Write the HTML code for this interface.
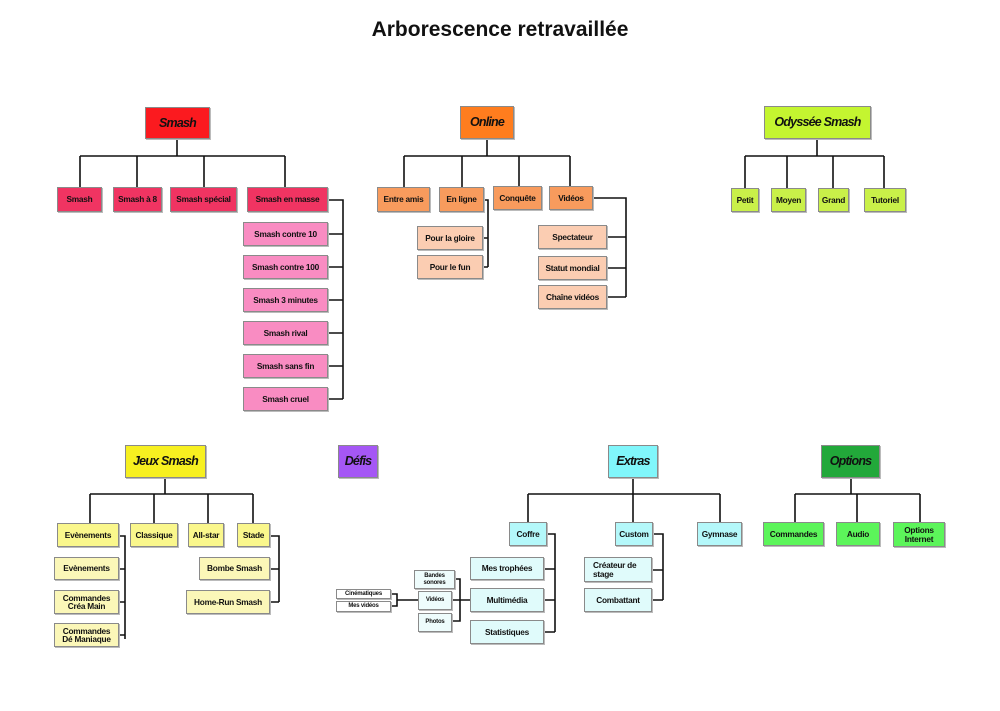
<!DOCTYPE html>
<html><head><meta charset="utf-8"><style>
body{margin:0;width:1000px;height:711px;background:#fff;position:relative;overflow:hidden;font-family:"Liberation Sans Narrow","Liberation Sans",sans-serif}
.t{position:absolute;left:0;width:1000px;top:18px;text-align:center;font:bold 21px "Liberation Sans",sans-serif;color:#111}
.b{position:absolute;box-sizing:border-box;border:1px solid #8a8a8a;display:flex;align-items:center;justify-content:center;text-align:center;font-weight:bold;font-size:8.3px;letter-spacing:-0.25px;line-height:8.5px;color:#111;box-shadow:1px 1px 0 #bbb;white-space:nowrap}
.r{font-style:italic;font-size:12.5px;letter-spacing:-0.8px}
.s{font-size:6px;line-height:6.5px;letter-spacing:-0.2px}
svg{position:absolute;left:0;top:0}
</style></head><body>
<div class="t">Arborescence retravaillée</div>
<svg width="1000" height="711" fill="none" stroke="#111" stroke-width="1.6">
<path d="M177 139V156M80 156H285M80 156V187M137 156V187M204 156V187M285 156V187"/>
<path d="M328 200H343V399M328 234H343M328 267H343M328 300H343M328 333H343M328 366H343M328 399H343"/>
<path d="M487 139V156M404 156H570M404 156V187M462 156V187M519 156V186M570 156V186"/>
<path d="M484 200H488V267M483 238H488M483 267H488"/>
<path d="M593 198H626V297M607 237H626M607 268H626M607 297H626"/>
<path d="M817 139V156M745 156H884M745 156V188M787 156V188M833 156V188M884 156V188"/>
<path d="M165 478V494M90 494H253M90 494V523M154 494V523M208 494V523M253 494V523"/>
<path d="M119 536H125V639M119 569H125M119 602H125M119 635H125"/>
<path d="M270 536H279V602M270 569H279M270 602H279"/>
<path d="M633 478V522M528 494H720M528 494V522M720 494V522"/>
<path d="M547 534H555V632M544 569H555M544 600H555M544 632H555"/>
<path d="M653 534H663V600M652 570H663M652 600H663"/>
<path d="M455 579H460V621H452M452 600H470"/>
<path d="M391 594H397V606H391M397 600H418"/>
<path d="M851 478V494M795 494H920M795 494V522M857 494V522M920 494V522"/>
</svg>

<div class="b r" style="left:145px;top:107px;width:65px;height:32px;background:#fb1a1f">Smash</div>
<div class="b" style="left:57px;top:187px;width:45px;height:25px;background:#f03462">Smash</div>
<div class="b" style="left:113px;top:187px;width:49px;height:25px;background:#f03462">Smash à 8</div>
<div class="b" style="left:170px;top:187px;width:67px;height:25px;background:#f03462">Smash spécial</div>
<div class="b" style="left:247px;top:187px;width:81px;height:25px;background:#f03462">Smash en masse</div>
<div class="b" style="left:243px;top:222px;width:85px;height:24px;background:#f98cc2">Smash contre 10</div>
<div class="b" style="left:243px;top:255px;width:85px;height:24px;background:#f98cc2">Smash contre 100</div>
<div class="b" style="left:243px;top:288px;width:85px;height:24px;background:#f98cc2">Smash 3 minutes</div>
<div class="b" style="left:243px;top:321px;width:85px;height:24px;background:#f98cc2">Smash rival</div>
<div class="b" style="left:243px;top:354px;width:85px;height:24px;background:#f98cc2">Smash sans fin</div>
<div class="b" style="left:243px;top:387px;width:85px;height:24px;background:#f98cc2">Smash cruel</div>

<div class="b r" style="left:460px;top:106px;width:54px;height:33px;background:#ff7d1e">Online</div>
<div class="b" style="left:377px;top:187px;width:53px;height:25px;background:#f89b5d">Entre amis</div>
<div class="b" style="left:439px;top:187px;width:45px;height:25px;background:#f89b5d">En ligne</div>
<div class="b" style="left:493px;top:186px;width:49px;height:24px;background:#f89b5d">Conquête</div>
<div class="b" style="left:549px;top:186px;width:44px;height:24px;background:#f89b5d">Vidéos</div>
<div class="b" style="left:417px;top:226px;width:66px;height:24px;background:#fbcdb2">Pour la gloire</div>
<div class="b" style="left:417px;top:255px;width:66px;height:24px;background:#fbcdb2">Pour le fun</div>
<div class="b" style="left:538px;top:225px;width:69px;height:24px;background:#fbcdb2">Spectateur</div>
<div class="b" style="left:538px;top:256px;width:69px;height:24px;background:#fbcdb2">Statut mondial</div>
<div class="b" style="left:538px;top:285px;width:69px;height:24px;background:#fbcdb2">Chaîne vidéos</div>

<div class="b r" style="left:764px;top:106px;width:107px;height:33px;background:#c4f530">Odyssée Smash</div>
<div class="b" style="left:731px;top:188px;width:28px;height:24px;background:#c9f049">Petit</div>
<div class="b" style="left:771px;top:188px;width:35px;height:24px;background:#c9f049">Moyen</div>
<div class="b" style="left:818px;top:188px;width:31px;height:24px;background:#c9f049">Grand</div>
<div class="b" style="left:864px;top:188px;width:42px;height:24px;background:#c9f049">Tutoriel</div>

<div class="b r" style="left:125px;top:445px;width:81px;height:33px;background:#f7f020">Jeux Smash</div>
<div class="b" style="left:57px;top:523px;width:62px;height:24px;background:#faf78c">Evènements</div>
<div class="b" style="left:130px;top:523px;width:48px;height:24px;background:#faf78c">Classique</div>
<div class="b" style="left:188px;top:523px;width:36px;height:24px;background:#faf78c">All-star</div>
<div class="b" style="left:237px;top:523px;width:33px;height:24px;background:#faf78c">Stade</div>
<div class="b" style="left:54px;top:557px;width:65px;height:23px;background:#fbf7b8">Evènements</div>
<div class="b" style="left:54px;top:590px;width:65px;height:24px;background:#fbf7b8">Commandes<br>Créa Main</div>
<div class="b" style="left:54px;top:623px;width:65px;height:24px;background:#fbf7b8">Commandes<br>Dé Maniaque</div>
<div class="b" style="left:199px;top:557px;width:71px;height:23px;background:#fbf7b8">Bombe Smash</div>
<div class="b" style="left:186px;top:590px;width:84px;height:24px;background:#fbf7b8">Home-Run Smash</div>

<div class="b r" style="left:338px;top:445px;width:40px;height:33px;background:#a557f5">Défis</div>

<div class="b r" style="left:608px;top:445px;width:50px;height:33px;background:#80f6fb">Extras</div>
<div class="b" style="left:509px;top:522px;width:38px;height:24px;background:#b4f8fa">Coffre</div>
<div class="b" style="left:615px;top:522px;width:38px;height:24px;background:#b4f8fa">Custom</div>
<div class="b" style="left:697px;top:522px;width:45px;height:24px;background:#b4f8fa">Gymnase</div>
<div class="b" style="left:470px;top:557px;width:74px;height:23px;background:#e0fbfb">Mes trophées</div>
<div class="b" style="left:470px;top:588px;width:74px;height:24px;background:#e0fbfb">Multimédia</div>
<div class="b" style="left:470px;top:620px;width:74px;height:24px;background:#e0fbfb">Statistiques</div>
<div class="b" style="left:584px;top:557px;width:68px;height:25px;background:#e0fbfb;justify-content:flex-start;text-align:left;padding-left:8px">Créateur de<br>stage</div>
<div class="b" style="left:584px;top:588px;width:68px;height:24px;background:#e0fbfb">Combattant</div>
<div class="b s" style="left:414px;top:570px;width:41px;height:19px;background:#eefcfc">Bandes<br>sonores</div>
<div class="b s" style="left:418px;top:591px;width:34px;height:19px;background:#eefcfc">Vidéos</div>
<div class="b s" style="left:418px;top:613px;width:34px;height:19px;background:#eefcfc">Photos</div>
<div class="b s" style="left:336px;top:589px;width:55px;height:10px;background:#fff">Cinématiques</div>
<div class="b s" style="left:336px;top:601px;width:55px;height:11px;background:#fff">Mes vidéos</div>

<div class="b r" style="left:821px;top:445px;width:59px;height:33px;background:#22a83a">Options</div>
<div class="b" style="left:763px;top:522px;width:61px;height:24px;background:#5cf55a">Commandes</div>
<div class="b" style="left:836px;top:522px;width:44px;height:24px;background:#5cf55a">Audio</div>
<div class="b" style="left:893px;top:522px;width:52px;height:25px;background:#5cf55a">Options<br>Internet</div>
</body></html>
